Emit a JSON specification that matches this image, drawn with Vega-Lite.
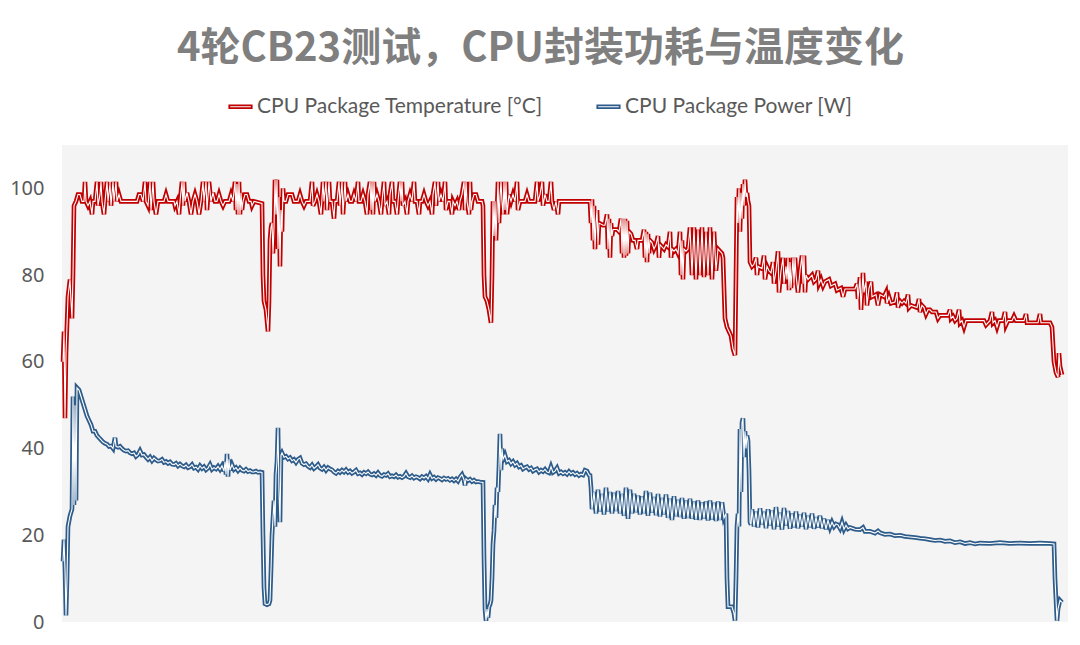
{
"$schema":"https://vega.github.io/schema/vega-lite/v6.json",
"width":1006,"height":477,
"autosize":{"type":"none"},
"padding":{"left":62,"top":145,"right":12,"bottom":23},
"background":"white",
"title":{"text":"4轮CB23测试，CPU封装功耗与温度变化","font":"Noto Sans CJK SC","fontSize":40,"fontWeight":"bold","color":"#7f7f7f","anchor":"middle","frame":"bounds","offset":25},
"config":{"view":{"fill":"#f4f4f4","stroke":null},"axis":{"labelFont":"Noto Sans","labelFontSize":20,"labelColor":"#595959"}},
"data":{"values":[
{"s":"T","t":63,"v":60},{"s":"T","t":64,"v":67},{"s":"T","t":65,"v":47},{"s":"T","t":66,"v":62},{"s":"T","t":68,"v":75},{"s":"T","t":70,"v":79},{"s":"T","t":71,"v":74},{"s":"T","t":72,"v":70},{"s":"T","t":73,"v":80},{"s":"T","t":74,"v":96},{"s":"T","t":76,"v":97},{"s":"T","t":78,"v":98.6},{"s":"T","t":80,"v":98.6},{"s":"T","t":82,"v":97},{"s":"T","t":84,"v":97},{"s":"T","t":85,"v":101.5},{"s":"T","t":86,"v":97},{"s":"T","t":88,"v":96},{"s":"T","t":90,"v":97},{"s":"T","t":92,"v":94},{"s":"T","t":93,"v":97},{"s":"T","t":95,"v":97},{"s":"T","t":97,"v":101.5},{"s":"T","t":98,"v":96},{"s":"T","t":100,"v":98.6},{"s":"T","t":101,"v":101.5},{"s":"T","t":102,"v":97},{"s":"T","t":104,"v":94},{"s":"T","t":105,"v":97},{"s":"T","t":107,"v":101.5},{"s":"T","t":108,"v":97},{"s":"T","t":110,"v":101},{"s":"T","t":111,"v":96},{"s":"T","t":113,"v":101.5},{"s":"T","t":114,"v":97},{"s":"T","t":116,"v":101.5},{"s":"T","t":117,"v":97},{"s":"T","t":119,"v":98.6},{"s":"T","t":121,"v":97},{"s":"T","t":125,"v":97},{"s":"T","t":129,"v":97},{"s":"T","t":133,"v":97},{"s":"T","t":137,"v":97},{"s":"T","t":139,"v":98.6},{"s":"T","t":141,"v":98.6},{"s":"T","t":143,"v":97},{"s":"T","t":145,"v":101.5},{"s":"T","t":146,"v":97},{"s":"T","t":148,"v":96},{"s":"T","t":150,"v":101.5},{"s":"T","t":151,"v":95},{"s":"T","t":153,"v":101.5},{"s":"T","t":154,"v":97},{"s":"T","t":156,"v":94},{"s":"T","t":158,"v":97},{"s":"T","t":164,"v":97},{"s":"T","t":166,"v":98.6},{"s":"T","t":168,"v":97},{"s":"T","t":174,"v":97},{"s":"T","t":175,"v":96},{"s":"T","t":177,"v":97},{"s":"T","t":179,"v":94},{"s":"T","t":180,"v":97},{"s":"T","t":182,"v":101.5},{"s":"T","t":183,"v":96},{"s":"T","t":184,"v":101.5},{"s":"T","t":185,"v":97},{"s":"T","t":187,"v":99},{"s":"T","t":189,"v":97},{"s":"T","t":191,"v":94},{"s":"T","t":193,"v":97},{"s":"T","t":195,"v":98.6},{"s":"T","t":197,"v":97},{"s":"T","t":199,"v":94},{"s":"T","t":201,"v":97},{"s":"T","t":203,"v":101.5},{"s":"T","t":204,"v":97},{"s":"T","t":206,"v":101.5},{"s":"T","t":207,"v":95},{"s":"T","t":209,"v":101.5},{"s":"T","t":211,"v":97},{"s":"T","t":213,"v":99},{"s":"T","t":215,"v":97},{"s":"T","t":217,"v":97},{"s":"T","t":219,"v":98.6},{"s":"T","t":221,"v":97},{"s":"T","t":223,"v":96},{"s":"T","t":225,"v":97},{"s":"T","t":229,"v":97},{"s":"T","t":231,"v":98.6},{"s":"T","t":233,"v":97},{"s":"T","t":235,"v":101.5},{"s":"T","t":236,"v":95},{"s":"T","t":237,"v":101},{"s":"T","t":238,"v":94},{"s":"T","t":239,"v":101.5},{"s":"T","t":240,"v":94},{"s":"T","t":241,"v":99},{"s":"T","t":242,"v":95},{"s":"T","t":243,"v":97},{"s":"T","t":245,"v":98.6},{"s":"T","t":247,"v":98.6},{"s":"T","t":249,"v":97},{"s":"T","t":251,"v":97},{"s":"T","t":252,"v":96},{"s":"T","t":254,"v":97},{"s":"T","t":262,"v":96.5},{"s":"T","t":263,"v":80},{"s":"T","t":264,"v":74},{"s":"T","t":266,"v":72},{"s":"T","t":268,"v":67},{"s":"T","t":269,"v":74},{"s":"T","t":270,"v":88},{"s":"T","t":271,"v":91},{"s":"T","t":272,"v":92},{"s":"T","t":273,"v":85},{"s":"T","t":274,"v":91},{"s":"T","t":275,"v":102},{"s":"T","t":276,"v":94},{"s":"T","t":277,"v":102},{"s":"T","t":278,"v":86},{"s":"T","t":279,"v":98},{"s":"T","t":280,"v":82},{"s":"T","t":281,"v":95},{"s":"T","t":282,"v":90},{"s":"T","t":283,"v":100},{"s":"T","t":284,"v":97},{"s":"T","t":286,"v":97},{"s":"T","t":288,"v":98.6},{"s":"T","t":292,"v":98.6},{"s":"T","t":294,"v":97},{"s":"T","t":298,"v":97},{"s":"T","t":300,"v":98.6},{"s":"T","t":302,"v":97},{"s":"T","t":304,"v":96},{"s":"T","t":306,"v":97},{"s":"T","t":310,"v":97},{"s":"T","t":312,"v":101.5},{"s":"T","t":313,"v":96},{"s":"T","t":315,"v":97},{"s":"T","t":317,"v":98.6},{"s":"T","t":319,"v":97},{"s":"T","t":321,"v":94},{"s":"T","t":323,"v":101.5},{"s":"T","t":324,"v":97},{"s":"T","t":326,"v":101.5},{"s":"T","t":327,"v":95},{"s":"T","t":329,"v":101.5},{"s":"T","t":330,"v":97},{"s":"T","t":332,"v":97},{"s":"T","t":334,"v":93},{"s":"T","t":335,"v":97},{"s":"T","t":337,"v":97},{"s":"T","t":339,"v":101.5},{"s":"T","t":340,"v":96},{"s":"T","t":342,"v":101.5},{"s":"T","t":343,"v":94},{"s":"T","t":345,"v":101.5},{"s":"T","t":346,"v":97},{"s":"T","t":348,"v":98.6},{"s":"T","t":350,"v":97},{"s":"T","t":352,"v":97},{"s":"T","t":354,"v":98.6},{"s":"T","t":356,"v":97},{"s":"T","t":358,"v":101.5},{"s":"T","t":359,"v":97},{"s":"T","t":361,"v":97},{"s":"T","t":363,"v":98.6},{"s":"T","t":365,"v":97},{"s":"T","t":367,"v":94},{"s":"T","t":368,"v":98.6},{"s":"T","t":370,"v":101.5},{"s":"T","t":371,"v":95},{"s":"T","t":372,"v":101.5},{"s":"T","t":373,"v":94},{"s":"T","t":374,"v":101.5},{"s":"T","t":375,"v":97},{"s":"T","t":377,"v":98.6},{"s":"T","t":379,"v":97},{"s":"T","t":381,"v":94},{"s":"T","t":382,"v":97},{"s":"T","t":384,"v":101.5},{"s":"T","t":385,"v":96},{"s":"T","t":387,"v":97},{"s":"T","t":389,"v":94},{"s":"T","t":390,"v":98.6},{"s":"T","t":392,"v":101.5},{"s":"T","t":393,"v":97},{"s":"T","t":395,"v":97},{"s":"T","t":397,"v":94},{"s":"T","t":398,"v":97},{"s":"T","t":400,"v":101.5},{"s":"T","t":401,"v":97},{"s":"T","t":402,"v":101.5},{"s":"T","t":403,"v":96},{"s":"T","t":405,"v":97},{"s":"T","t":407,"v":94},{"s":"T","t":408,"v":97},{"s":"T","t":410,"v":98.6},{"s":"T","t":412,"v":97},{"s":"T","t":414,"v":101.5},{"s":"T","t":415,"v":97},{"s":"T","t":417,"v":97},{"s":"T","t":419,"v":94},{"s":"T","t":420,"v":97},{"s":"T","t":422,"v":97},{"s":"T","t":424,"v":98.6},{"s":"T","t":426,"v":97},{"s":"T","t":428,"v":96},{"s":"T","t":430,"v":97},{"s":"T","t":432,"v":94},{"s":"T","t":433,"v":98.6},{"s":"T","t":435,"v":101.5},{"s":"T","t":436,"v":96},{"s":"T","t":438,"v":101.5},{"s":"T","t":439,"v":97},{"s":"T","t":441,"v":98.6},{"s":"T","t":443,"v":97},{"s":"T","t":445,"v":101.5},{"s":"T","t":446,"v":95},{"s":"T","t":448,"v":97},{"s":"T","t":450,"v":97},{"s":"T","t":452,"v":94},{"s":"T","t":453,"v":97},{"s":"T","t":455,"v":96},{"s":"T","t":457,"v":97},{"s":"T","t":459,"v":95},{"s":"T","t":460,"v":97},{"s":"T","t":462,"v":98.6},{"s":"T","t":464,"v":101.5},{"s":"T","t":465,"v":95},{"s":"T","t":466,"v":101.5},{"s":"T","t":467,"v":97},{"s":"T","t":469,"v":94},{"s":"T","t":470,"v":101.5},{"s":"T","t":471,"v":95},{"s":"T","t":472,"v":97},{"s":"T","t":474,"v":98.6},{"s":"T","t":476,"v":98.6},{"s":"T","t":478,"v":97},{"s":"T","t":482,"v":97},{"s":"T","t":483,"v":96},{"s":"T","t":484,"v":80},{"s":"T","t":485,"v":75},{"s":"T","t":487,"v":74},{"s":"T","t":489,"v":72},{"s":"T","t":491,"v":69},{"s":"T","t":492,"v":80},{"s":"T","t":493,"v":97},{"s":"T","t":494,"v":89},{"s":"T","t":495,"v":97},{"s":"T","t":496,"v":88},{"s":"T","t":497,"v":95},{"s":"T","t":498,"v":101.5},{"s":"T","t":499,"v":92},{"s":"T","t":500,"v":98},{"s":"T","t":501,"v":101.5},{"s":"T","t":502,"v":97},{"s":"T","t":503,"v":94},{"s":"T","t":504,"v":101.5},{"s":"T","t":505,"v":95},{"s":"T","t":506,"v":101.5},{"s":"T","t":507,"v":94},{"s":"T","t":509,"v":98.6},{"s":"T","t":511,"v":97},{"s":"T","t":513,"v":98.6},{"s":"T","t":515,"v":97},{"s":"T","t":517,"v":101.5},{"s":"T","t":518,"v":95},{"s":"T","t":520,"v":97},{"s":"T","t":525,"v":97},{"s":"T","t":527,"v":98.6},{"s":"T","t":529,"v":97},{"s":"T","t":535,"v":97},{"s":"T","t":537,"v":101.5},{"s":"T","t":538,"v":97},{"s":"T","t":540,"v":98.6},{"s":"T","t":542,"v":101.5},{"s":"T","t":543,"v":96},{"s":"T","t":545,"v":98.6},{"s":"T","t":547,"v":97},{"s":"T","t":549,"v":97},{"s":"T","t":551,"v":101.5},{"s":"T","t":552,"v":97},{"s":"T","t":554,"v":95},{"s":"T","t":556,"v":97},{"s":"T","t":558,"v":94},{"s":"T","t":559,"v":97},{"s":"T","t":589,"v":97},{"s":"T","t":590,"v":97},{"s":"T","t":591,"v":92},{"s":"T","t":592,"v":97.5},{"s":"T","t":593,"v":88},{"s":"T","t":594,"v":96},{"s":"T","t":595,"v":86},{"s":"T","t":596,"v":92},{"s":"T","t":597,"v":95},{"s":"T","t":598,"v":87},{"s":"T","t":599,"v":92},{"s":"T","t":603,"v":91.5},{"s":"T","t":605,"v":91.5},{"s":"T","t":607,"v":94},{"s":"T","t":608,"v":86},{"s":"T","t":609,"v":93},{"s":"T","t":610,"v":84},{"s":"T","t":611,"v":92},{"s":"T","t":612,"v":89},{"s":"T","t":613,"v":90.5},{"s":"T","t":617,"v":90.5},{"s":"T","t":619,"v":90},{"s":"T","t":621,"v":93},{"s":"T","t":622,"v":85},{"s":"T","t":623,"v":93},{"s":"T","t":624,"v":84},{"s":"T","t":625,"v":93},{"s":"T","t":626,"v":84.5},{"s":"T","t":627,"v":92.5},{"s":"T","t":628,"v":85},{"s":"T","t":629,"v":90},{"s":"T","t":631,"v":89.5},{"s":"T","t":633,"v":88},{"s":"T","t":635,"v":88},{"s":"T","t":637,"v":86},{"s":"T","t":638,"v":88},{"s":"T","t":642,"v":88},{"s":"T","t":644,"v":90.5},{"s":"T","t":645,"v":84},{"s":"T","t":646,"v":90},{"s":"T","t":647,"v":83},{"s":"T","t":648,"v":89.5},{"s":"T","t":649,"v":85},{"s":"T","t":650,"v":88},{"s":"T","t":652,"v":87.5},{"s":"T","t":654,"v":86},{"s":"T","t":656,"v":87},{"s":"T","t":658,"v":89},{"s":"T","t":659,"v":84},{"s":"T","t":660,"v":87},{"s":"T","t":664,"v":86},{"s":"T","t":666,"v":87},{"s":"T","t":668,"v":86.5},{"s":"T","t":670,"v":90},{"s":"T","t":671,"v":84},{"s":"T","t":672,"v":86},{"s":"T","t":674,"v":85.5},{"s":"T","t":676,"v":86},{"s":"T","t":678,"v":85},{"s":"T","t":680,"v":90},{"s":"T","t":681,"v":80},{"s":"T","t":682,"v":88},{"s":"T","t":683,"v":79},{"s":"T","t":684,"v":86},{"s":"T","t":686,"v":85.5},{"s":"T","t":688,"v":86},{"s":"T","t":690,"v":91},{"s":"T","t":692,"v":80},{"s":"T","t":694,"v":91},{"s":"T","t":696,"v":79},{"s":"T","t":698,"v":90.5},{"s":"T","t":700,"v":80},{"s":"T","t":702,"v":91},{"s":"T","t":704,"v":79.5},{"s":"T","t":706,"v":90},{"s":"T","t":708,"v":80},{"s":"T","t":710,"v":91},{"s":"T","t":712,"v":79},{"s":"T","t":714,"v":90},{"s":"T","t":716,"v":81},{"s":"T","t":718,"v":86},{"s":"T","t":722,"v":85},{"s":"T","t":723,"v":84},{"s":"T","t":725,"v":70},{"s":"T","t":727,"v":68},{"s":"T","t":729,"v":67},{"s":"T","t":731,"v":66},{"s":"T","t":733,"v":63},{"s":"T","t":735,"v":61.5},{"s":"T","t":736,"v":80},{"s":"T","t":737,"v":98},{"s":"T","t":738,"v":92},{"s":"T","t":739,"v":100},{"s":"T","t":740,"v":90},{"s":"T","t":741,"v":99},{"s":"T","t":742,"v":93},{"s":"T","t":743,"v":101},{"s":"T","t":744,"v":96},{"s":"T","t":745,"v":102},{"s":"T","t":746,"v":98},{"s":"T","t":747,"v":99},{"s":"T","t":748,"v":97},{"s":"T","t":749,"v":96},{"s":"T","t":750,"v":83},{"s":"T","t":752,"v":82},{"s":"T","t":754,"v":82.5},{"s":"T","t":756,"v":84},{"s":"T","t":757,"v":80},{"s":"T","t":758,"v":82},{"s":"T","t":762,"v":81.5},{"s":"T","t":764,"v":84.5},{"s":"T","t":765,"v":79},{"s":"T","t":767,"v":82},{"s":"T","t":769,"v":81},{"s":"T","t":771,"v":80.5},{"s":"T","t":773,"v":83},{"s":"T","t":774,"v":78},{"s":"T","t":776,"v":81},{"s":"T","t":778,"v":85.5},{"s":"T","t":779,"v":76},{"s":"T","t":781,"v":81},{"s":"T","t":783,"v":84},{"s":"T","t":784,"v":78},{"s":"T","t":786,"v":82},{"s":"T","t":787,"v":79},{"s":"T","t":788,"v":84},{"s":"T","t":789,"v":76.5},{"s":"T","t":790,"v":83},{"s":"T","t":791,"v":77},{"s":"T","t":793,"v":84},{"s":"T","t":794,"v":78},{"s":"T","t":795,"v":84},{"s":"T","t":796,"v":80},{"s":"T","t":798,"v":76},{"s":"T","t":800,"v":81},{"s":"T","t":802,"v":84.5},{"s":"T","t":803,"v":78},{"s":"T","t":804,"v":84.5},{"s":"T","t":805,"v":76},{"s":"T","t":806,"v":80},{"s":"T","t":808,"v":79},{"s":"T","t":810,"v":79.5},{"s":"T","t":812,"v":80},{"s":"T","t":814,"v":78.5},{"s":"T","t":816,"v":79},{"s":"T","t":818,"v":81},{"s":"T","t":819,"v":78},{"s":"T","t":821,"v":79},{"s":"T","t":823,"v":77.5},{"s":"T","t":825,"v":78.5},{"s":"T","t":829,"v":79},{"s":"T","t":831,"v":77.5},{"s":"T","t":835,"v":78},{"s":"T","t":837,"v":76.5},{"s":"T","t":841,"v":77},{"s":"T","t":843,"v":75},{"s":"T","t":845,"v":76.8},{"s":"T","t":855,"v":76.8},{"s":"T","t":857,"v":78},{"s":"T","t":858,"v":74.5},{"s":"T","t":860,"v":79.5},{"s":"T","t":861,"v":72},{"s":"T","t":863,"v":80.5},{"s":"T","t":864,"v":76},{"s":"T","t":866,"v":78.5},{"s":"T","t":867,"v":73},{"s":"T","t":869,"v":77},{"s":"T","t":871,"v":78.5},{"s":"T","t":872,"v":75},{"s":"T","t":876,"v":75.5},{"s":"T","t":878,"v":73},{"s":"T","t":880,"v":75.5},{"s":"T","t":884,"v":75},{"s":"T","t":886,"v":76},{"s":"T","t":887,"v":73.5},{"s":"T","t":889,"v":75},{"s":"T","t":891,"v":73.5},{"s":"T","t":895,"v":73.8},{"s":"T","t":897,"v":76},{"s":"T","t":898,"v":72.5},{"s":"T","t":900,"v":74},{"s":"T","t":902,"v":73.5},{"s":"T","t":904,"v":74},{"s":"T","t":906,"v":73.5},{"s":"T","t":908,"v":75.5},{"s":"T","t":909,"v":72.5},{"s":"T","t":911,"v":73},{"s":"T","t":917,"v":72.5},{"s":"T","t":919,"v":74.5},{"s":"T","t":920,"v":71.5},{"s":"T","t":922,"v":73},{"s":"T","t":924,"v":72.5},{"s":"T","t":926,"v":71},{"s":"T","t":928,"v":72},{"s":"T","t":930,"v":72},{"s":"T","t":932,"v":71.5},{"s":"T","t":936,"v":71.5},{"s":"T","t":938,"v":70},{"s":"T","t":940,"v":70.7},{"s":"T","t":948,"v":70.7},{"s":"T","t":950,"v":72},{"s":"T","t":951,"v":70},{"s":"T","t":953,"v":70.5},{"s":"T","t":955,"v":69.5},{"s":"T","t":957,"v":70},{"s":"T","t":959,"v":72},{"s":"T","t":960,"v":69},{"s":"T","t":962,"v":69.5},{"s":"T","t":964,"v":68},{"s":"T","t":966,"v":69.5},{"s":"T","t":984,"v":69.5},{"s":"T","t":986,"v":68.5},{"s":"T","t":990,"v":69.5},{"s":"T","t":992,"v":71.5},{"s":"T","t":993,"v":69},{"s":"T","t":995,"v":69.5},{"s":"T","t":997,"v":68},{"s":"T","t":999,"v":69.5},{"s":"T","t":1003,"v":69.5},{"s":"T","t":1005,"v":71.5},{"s":"T","t":1006,"v":68.5},{"s":"T","t":1008,"v":69.5},{"s":"T","t":1012,"v":69.5},{"s":"T","t":1014,"v":70.5},{"s":"T","t":1016,"v":69.5},{"s":"T","t":1024,"v":69.5},{"s":"T","t":1026,"v":71},{"s":"T","t":1027,"v":69},{"s":"T","t":1038,"v":69},{"s":"T","t":1040,"v":71},{"s":"T","t":1041,"v":69},{"s":"T","t":1050,"v":69},{"s":"T","t":1052,"v":68},{"s":"T","t":1054,"v":60},{"s":"T","t":1056,"v":57.5},{"s":"T","t":1058,"v":56.5},{"s":"T","t":1059,"v":62},{"s":"T","t":1060,"v":59},{"s":"T","t":1062,"v":57},
{"s":"P","t":63,"v":14},{"s":"P","t":64,"v":19},{"s":"P","t":65,"v":12},{"s":"P","t":66,"v":1.5},{"s":"P","t":67,"v":10},{"s":"P","t":68,"v":22},{"s":"P","t":70,"v":24.5},{"s":"P","t":72,"v":26},{"s":"P","t":73,"v":52},{"s":"P","t":74,"v":27},{"s":"P","t":75,"v":50},{"s":"P","t":76,"v":28},{"s":"P","t":77,"v":54},{"s":"P","t":79,"v":53.5},{"s":"P","t":81,"v":52},{"s":"P","t":83,"v":50.5},{"s":"P","t":85,"v":49},{"s":"P","t":87,"v":47.5},{"s":"P","t":89,"v":46.5},{"s":"P","t":91,"v":45.5},{"s":"P","t":93,"v":44},{"s":"P","t":95,"v":44},{"s":"P","t":97,"v":43},{"s":"P","t":99,"v":42.5},{"s":"P","t":101,"v":42},{"s":"P","t":103,"v":41.5},{"s":"P","t":105,"v":41.2},{"s":"P","t":107,"v":41},{"s":"P","t":109,"v":40.5},{"s":"P","t":111,"v":40.6},{"s":"P","t":113,"v":40},{"s":"P","t":115,"v":42.5},{"s":"P","t":116,"v":40.5},{"s":"P","t":118,"v":40.3},{"s":"P","t":120,"v":40.5},{"s":"P","t":122,"v":40},{"s":"P","t":124,"v":39.6},{"s":"P","t":126,"v":39.4},{"s":"P","t":128,"v":39.5},{"s":"P","t":130,"v":39},{"s":"P","t":132,"v":38.8},{"s":"P","t":134,"v":39},{"s":"P","t":136,"v":38.2},{"s":"P","t":138,"v":38.6},{"s":"P","t":140,"v":39.5},{"s":"P","t":142,"v":38.5},{"s":"P","t":144,"v":38.6},{"s":"P","t":146,"v":38},{"s":"P","t":148,"v":37.5},{"s":"P","t":150,"v":38},{"s":"P","t":152,"v":37.2},{"s":"P","t":154,"v":37.8},{"s":"P","t":156,"v":37.4},{"s":"P","t":158,"v":37.1},{"s":"P","t":160,"v":37.2},{"s":"P","t":162,"v":37.5},{"s":"P","t":164,"v":36.8},{"s":"P","t":166,"v":37},{"s":"P","t":168,"v":36.6},{"s":"P","t":170,"v":36.9},{"s":"P","t":172,"v":36.4},{"s":"P","t":174,"v":36.3},{"s":"P","t":176,"v":36.6},{"s":"P","t":178,"v":36},{"s":"P","t":180,"v":36.4},{"s":"P","t":182,"v":36},{"s":"P","t":184,"v":35.8},{"s":"P","t":186,"v":36.2},{"s":"P","t":188,"v":35.6},{"s":"P","t":190,"v":35.8},{"s":"P","t":192,"v":36.3},{"s":"P","t":194,"v":35.5},{"s":"P","t":196,"v":35.7},{"s":"P","t":198,"v":35.2},{"s":"P","t":200,"v":36},{"s":"P","t":202,"v":35.4},{"s":"P","t":204,"v":35.8},{"s":"P","t":206,"v":35.1},{"s":"P","t":208,"v":35.5},{"s":"P","t":210,"v":36.3},{"s":"P","t":212,"v":35.2},{"s":"P","t":214,"v":35.6},{"s":"P","t":216,"v":35.3},{"s":"P","t":218,"v":35.9},{"s":"P","t":220,"v":35.2},{"s":"P","t":222,"v":36},{"s":"P","t":224,"v":34.8},{"s":"P","t":225,"v":37},{"s":"P","t":226,"v":34},{"s":"P","t":227,"v":38.8},{"s":"P","t":228,"v":33.5},{"s":"P","t":229,"v":37.5},{"s":"P","t":230,"v":35},{"s":"P","t":232,"v":36.3},{"s":"P","t":234,"v":35.2},{"s":"P","t":236,"v":35.6},{"s":"P","t":238,"v":34.9},{"s":"P","t":240,"v":35.5},{"s":"P","t":242,"v":35},{"s":"P","t":244,"v":34.8},{"s":"P","t":246,"v":35.2},{"s":"P","t":248,"v":34.7},{"s":"P","t":250,"v":34.9},{"s":"P","t":252,"v":34.6},{"s":"P","t":254,"v":34.6},{"s":"P","t":256,"v":34.8},{"s":"P","t":258,"v":34.5},{"s":"P","t":260,"v":34.6},{"s":"P","t":262,"v":34.5},{"s":"P","t":263,"v":20},{"s":"P","t":264,"v":8},{"s":"P","t":265,"v":4.2},{"s":"P","t":267,"v":4},{"s":"P","t":269,"v":4.2},{"s":"P","t":270,"v":5},{"s":"P","t":271,"v":12},{"s":"P","t":272,"v":20},{"s":"P","t":273,"v":24},{"s":"P","t":274,"v":28},{"s":"P","t":275,"v":22},{"s":"P","t":276,"v":34},{"s":"P","t":277,"v":37},{"s":"P","t":278,"v":44.8},{"s":"P","t":279,"v":30},{"s":"P","t":280,"v":23},{"s":"P","t":281,"v":38.5},{"s":"P","t":282,"v":39},{"s":"P","t":284,"v":38},{"s":"P","t":286,"v":38.2},{"s":"P","t":288,"v":37.6},{"s":"P","t":290,"v":37.9},{"s":"P","t":292,"v":37.2},{"s":"P","t":294,"v":37.5},{"s":"P","t":296,"v":36.8},{"s":"P","t":298,"v":37.5},{"s":"P","t":300,"v":37.8},{"s":"P","t":302,"v":36.6},{"s":"P","t":304,"v":36.3},{"s":"P","t":306,"v":36.5},{"s":"P","t":308,"v":35.9},{"s":"P","t":310,"v":35.6},{"s":"P","t":312,"v":36.2},{"s":"P","t":314,"v":35.4},{"s":"P","t":316,"v":35.8},{"s":"P","t":318,"v":36.3},{"s":"P","t":320,"v":35.5},{"s":"P","t":322,"v":35.2},{"s":"P","t":324,"v":35.7},{"s":"P","t":326,"v":35},{"s":"P","t":328,"v":35.6},{"s":"P","t":330,"v":35.3},{"s":"P","t":332,"v":35.1},{"s":"P","t":334,"v":34.6},{"s":"P","t":336,"v":34.3},{"s":"P","t":338,"v":34.8},{"s":"P","t":340,"v":34.5},{"s":"P","t":342,"v":35},{"s":"P","t":344,"v":34.6},{"s":"P","t":346,"v":35.1},{"s":"P","t":348,"v":34.5},{"s":"P","t":350,"v":34.8},{"s":"P","t":352,"v":34.3},{"s":"P","t":354,"v":34.6},{"s":"P","t":356,"v":35},{"s":"P","t":358,"v":34.2},{"s":"P","t":360,"v":34.4},{"s":"P","t":362,"v":34},{"s":"P","t":364,"v":34.5},{"s":"P","t":366,"v":34.2},{"s":"P","t":368,"v":34.6},{"s":"P","t":370,"v":34.1},{"s":"P","t":372,"v":33.9},{"s":"P","t":374,"v":34.2},{"s":"P","t":376,"v":33.8},{"s":"P","t":378,"v":34.4},{"s":"P","t":380,"v":33.8},{"s":"P","t":382,"v":33.6},{"s":"P","t":384,"v":34},{"s":"P","t":386,"v":33.8},{"s":"P","t":388,"v":34.2},{"s":"P","t":390,"v":33.5},{"s":"P","t":392,"v":33.7},{"s":"P","t":394,"v":33.5},{"s":"P","t":396,"v":33.9},{"s":"P","t":398,"v":33.4},{"s":"P","t":400,"v":33.6},{"s":"P","t":402,"v":33.3},{"s":"P","t":404,"v":33.6},{"s":"P","t":406,"v":34.3},{"s":"P","t":408,"v":33.5},{"s":"P","t":410,"v":33.3},{"s":"P","t":412,"v":33.7},{"s":"P","t":414,"v":33.2},{"s":"P","t":416,"v":33.5},{"s":"P","t":418,"v":33.3},{"s":"P","t":420,"v":33},{"s":"P","t":422,"v":33.5},{"s":"P","t":424,"v":33.2},{"s":"P","t":426,"v":33.6},{"s":"P","t":428,"v":33},{"s":"P","t":430,"v":34},{"s":"P","t":432,"v":33.1},{"s":"P","t":434,"v":33.4},{"s":"P","t":436,"v":32.9},{"s":"P","t":438,"v":33.3},{"s":"P","t":440,"v":33.1},{"s":"P","t":442,"v":32.8},{"s":"P","t":444,"v":33.2},{"s":"P","t":446,"v":32.9},{"s":"P","t":448,"v":33.1},{"s":"P","t":450,"v":32.7},{"s":"P","t":452,"v":33},{"s":"P","t":454,"v":32.6},{"s":"P","t":456,"v":33},{"s":"P","t":458,"v":32.5},{"s":"P","t":460,"v":33.4},{"s":"P","t":462,"v":34},{"s":"P","t":464,"v":32.8},{"s":"P","t":465,"v":31.5},{"s":"P","t":466,"v":33},{"s":"P","t":468,"v":32.6},{"s":"P","t":470,"v":32.9},{"s":"P","t":472,"v":32.4},{"s":"P","t":474,"v":32.7},{"s":"P","t":476,"v":32.3},{"s":"P","t":478,"v":32.4},{"s":"P","t":480,"v":32.3},{"s":"P","t":483,"v":32.2},{"s":"P","t":484,"v":15},{"s":"P","t":485,"v":3},{"s":"P","t":486,"v":0.3},{"s":"P","t":487,"v":3},{"s":"P","t":488,"v":1},{"s":"P","t":489,"v":3.5},{"s":"P","t":490,"v":4},{"s":"P","t":491,"v":5},{"s":"P","t":492,"v":10},{"s":"P","t":493,"v":18},{"s":"P","t":494,"v":21},{"s":"P","t":495,"v":27},{"s":"P","t":496,"v":24},{"s":"P","t":497,"v":31},{"s":"P","t":498,"v":30},{"s":"P","t":499,"v":36},{"s":"P","t":500,"v":43.4},{"s":"P","t":501,"v":35},{"s":"P","t":502,"v":40},{"s":"P","t":503,"v":37.5},{"s":"P","t":505,"v":38.5},{"s":"P","t":507,"v":37},{"s":"P","t":509,"v":37.3},{"s":"P","t":511,"v":36.5},{"s":"P","t":513,"v":37},{"s":"P","t":515,"v":36.2},{"s":"P","t":517,"v":36.6},{"s":"P","t":519,"v":35.8},{"s":"P","t":521,"v":36.1},{"s":"P","t":523,"v":35.3},{"s":"P","t":525,"v":35.6},{"s":"P","t":527,"v":35.8},{"s":"P","t":529,"v":35.2},{"s":"P","t":531,"v":35.5},{"s":"P","t":533,"v":34.8},{"s":"P","t":535,"v":35.1},{"s":"P","t":537,"v":35.3},{"s":"P","t":539,"v":34.6},{"s":"P","t":541,"v":35},{"s":"P","t":543,"v":34.7},{"s":"P","t":545,"v":35.2},{"s":"P","t":547,"v":34.6},{"s":"P","t":549,"v":34.4},{"s":"P","t":551,"v":35.8},{"s":"P","t":553,"v":34.5},{"s":"P","t":555,"v":34.8},{"s":"P","t":557,"v":35.5},{"s":"P","t":559,"v":34.3},{"s":"P","t":561,"v":34.6},{"s":"P","t":563,"v":34.2},{"s":"P","t":565,"v":34.5},{"s":"P","t":567,"v":34.1},{"s":"P","t":569,"v":34.7},{"s":"P","t":571,"v":34.2},{"s":"P","t":573,"v":34.5},{"s":"P","t":575,"v":34},{"s":"P","t":577,"v":34.3},{"s":"P","t":579,"v":33.8},{"s":"P","t":581,"v":34.1},{"s":"P","t":583,"v":33.9},{"s":"P","t":585,"v":35},{"s":"P","t":587,"v":34.8},{"s":"P","t":589,"v":33.9},{"s":"P","t":590,"v":33.8},{"s":"P","t":591,"v":31},{"s":"P","t":592,"v":26},{"s":"P","t":594,"v":30},{"s":"P","t":596,"v":25},{"s":"P","t":598,"v":30.5},{"s":"P","t":600,"v":25.5},{"s":"P","t":602,"v":29.5},{"s":"P","t":604,"v":24.8},{"s":"P","t":606,"v":31},{"s":"P","t":608,"v":25.5},{"s":"P","t":610,"v":30},{"s":"P","t":612,"v":25},{"s":"P","t":614,"v":29.8},{"s":"P","t":616,"v":25.6},{"s":"P","t":618,"v":30.2},{"s":"P","t":620,"v":25},{"s":"P","t":622,"v":29.5},{"s":"P","t":624,"v":24.5},{"s":"P","t":626,"v":31},{"s":"P","t":628,"v":23.8},{"s":"P","t":630,"v":30.5},{"s":"P","t":632,"v":25},{"s":"P","t":634,"v":29.6},{"s":"P","t":636,"v":25.3},{"s":"P","t":638,"v":29.2},{"s":"P","t":640,"v":24.8},{"s":"P","t":642,"v":29},{"s":"P","t":644,"v":25},{"s":"P","t":646,"v":30.2},{"s":"P","t":648,"v":24.5},{"s":"P","t":650,"v":29.8},{"s":"P","t":652,"v":25.2},{"s":"P","t":654,"v":28.8},{"s":"P","t":656,"v":24.6},{"s":"P","t":658,"v":29.5},{"s":"P","t":660,"v":24.3},{"s":"P","t":662,"v":28.6},{"s":"P","t":664,"v":24.8},{"s":"P","t":666,"v":29.4},{"s":"P","t":668,"v":24},{"s":"P","t":670,"v":28.5},{"s":"P","t":672,"v":23.5},{"s":"P","t":674,"v":29},{"s":"P","t":676,"v":24.4},{"s":"P","t":678,"v":28.2},{"s":"P","t":680,"v":24.2},{"s":"P","t":682,"v":28.6},{"s":"P","t":684,"v":23.8},{"s":"P","t":686,"v":28},{"s":"P","t":688,"v":24},{"s":"P","t":690,"v":28.4},{"s":"P","t":692,"v":23.8},{"s":"P","t":694,"v":27.8},{"s":"P","t":696,"v":23.6},{"s":"P","t":698,"v":28},{"s":"P","t":700,"v":23.5},{"s":"P","t":702,"v":27.6},{"s":"P","t":704,"v":23.8},{"s":"P","t":706,"v":27.8},{"s":"P","t":708,"v":23.4},{"s":"P","t":710,"v":28},{"s":"P","t":712,"v":23.6},{"s":"P","t":714,"v":27.5},{"s":"P","t":716,"v":23.3},{"s":"P","t":718,"v":27.8},{"s":"P","t":720,"v":23.5},{"s":"P","t":722,"v":27.6},{"s":"P","t":724,"v":24},{"s":"P","t":726,"v":25},{"s":"P","t":727,"v":10},{"s":"P","t":728,"v":3.5},{"s":"P","t":732,"v":3.5},{"s":"P","t":734,"v":2},{"s":"P","t":735,"v":0.3},{"s":"P","t":736,"v":10},{"s":"P","t":737,"v":22},{"s":"P","t":738,"v":25},{"s":"P","t":739,"v":22},{"s":"P","t":740,"v":44.5},{"s":"P","t":741,"v":30},{"s":"P","t":742,"v":46},{"s":"P","t":743,"v":47},{"s":"P","t":744,"v":38},{"s":"P","t":745,"v":44},{"s":"P","t":746,"v":40},{"s":"P","t":747,"v":43},{"s":"P","t":748,"v":41.8},{"s":"P","t":749,"v":35},{"s":"P","t":750,"v":23},{"s":"P","t":751,"v":22.5},{"s":"P","t":752,"v":26},{"s":"P","t":754,"v":22},{"s":"P","t":756,"v":25.5},{"s":"P","t":758,"v":21.8},{"s":"P","t":760,"v":26.2},{"s":"P","t":762,"v":22.5},{"s":"P","t":764,"v":25.4},{"s":"P","t":766,"v":21.6},{"s":"P","t":768,"v":26},{"s":"P","t":770,"v":22.2},{"s":"P","t":772,"v":25.8},{"s":"P","t":774,"v":21.4},{"s":"P","t":776,"v":26.5},{"s":"P","t":778,"v":22},{"s":"P","t":780,"v":25.2},{"s":"P","t":782,"v":21.3},{"s":"P","t":784,"v":26.3},{"s":"P","t":786,"v":22.2},{"s":"P","t":788,"v":25.6},{"s":"P","t":790,"v":21.5},{"s":"P","t":792,"v":25},{"s":"P","t":794,"v":21.8},{"s":"P","t":796,"v":25.5},{"s":"P","t":798,"v":21.6},{"s":"P","t":800,"v":24.8},{"s":"P","t":802,"v":22},{"s":"P","t":804,"v":25.2},{"s":"P","t":806,"v":21.4},{"s":"P","t":808,"v":24.5},{"s":"P","t":810,"v":21.8},{"s":"P","t":812,"v":25},{"s":"P","t":814,"v":21.5},{"s":"P","t":816,"v":24.2},{"s":"P","t":818,"v":21.8},{"s":"P","t":820,"v":24.5},{"s":"P","t":822,"v":21.6},{"s":"P","t":824,"v":23.8},{"s":"P","t":826,"v":21.4},{"s":"P","t":828,"v":23.5},{"s":"P","t":830,"v":21.8},{"s":"P","t":832,"v":23},{"s":"P","t":834,"v":22},{"s":"P","t":836,"v":22.6},{"s":"P","t":838,"v":22.4},{"s":"P","t":840,"v":21.6},{"s":"P","t":842,"v":23},{"s":"P","t":844,"v":21.4},{"s":"P","t":846,"v":22.3},{"s":"P","t":848,"v":21.5},{"s":"P","t":850,"v":21.8},{"s":"P","t":855,"v":21.4},{"s":"P","t":860,"v":21.3},{"s":"P","t":863,"v":21.8},{"s":"P","t":865,"v":20.9},{"s":"P","t":870,"v":20.9},{"s":"P","t":875,"v":20.5},{"s":"P","t":878,"v":21},{"s":"P","t":880,"v":20.6},{"s":"P","t":885,"v":20.2},{"s":"P","t":890,"v":20.3},{"s":"P","t":895,"v":19.9},{"s":"P","t":900,"v":20},{"s":"P","t":905,"v":19.7},{"s":"P","t":910,"v":19.6},{"s":"P","t":915,"v":19.5},{"s":"P","t":920,"v":19.3},{"s":"P","t":925,"v":19.2},{"s":"P","t":930,"v":19},{"s":"P","t":935,"v":18.8},{"s":"P","t":940,"v":18.9},{"s":"P","t":945,"v":18.6},{"s":"P","t":950,"v":18.7},{"s":"P","t":955,"v":18.3},{"s":"P","t":960,"v":18.5},{"s":"P","t":965,"v":18.1},{"s":"P","t":970,"v":18.3},{"s":"P","t":975,"v":18},{"s":"P","t":980,"v":18.2},{"s":"P","t":990,"v":18.1},{"s":"P","t":1000,"v":18.3},{"s":"P","t":1010,"v":18.1},{"s":"P","t":1020,"v":18.2},{"s":"P","t":1030,"v":18.1},{"s":"P","t":1040,"v":18.2},{"s":"P","t":1050,"v":18.1},{"s":"P","t":1054,"v":18},{"s":"P","t":1055,"v":10},{"s":"P","t":1057,"v":0.3},{"s":"P","t":1058,"v":3},{"s":"P","t":1060,"v":5},{"s":"P","t":1062,"v":4.5}
]},
"encoding":{
"x":{"field":"t","type":"quantitative","scale":{"domain":[62,1068],"nice":false,"zero":false},"axis":null},
"y":{"field":"v","type":"quantitative","scale":{"domain":[0,110],"nice":false},"axis":{"values":[0,20,40,60,80,100],"ticks":false,"domain":false,"grid":false,"labelPadding":18,"title":null}}
},
"layer":[
{"mark":{"type":"line","strokeWidth":4.6,"strokeJoin":"miter","strokeMiterLimit":4},
 "encoding":{"color":{"field":"s","type":"nominal","scale":{"domain":["T","P"],"range":["#c00000","#2d5b8a"]},
  "legend":{"orient":"none","legendX":166,"legendY":-51,"direction":"horizontal","title":null,"labelExpr":"datum.label == 'T' ? 'CPU Package Temperature [°C]' : 'CPU Package Power [W]'","labelFont":"Lato","labelFontSize":21,"labelColor":"#595959","labelLimit":0,"symbolType":"M-1,-0.12H1V0.12H-1Z","symbolSize":500,"symbolStrokeWidth":1.8,"symbolFillColor":"white","columnPadding":50,"labelOffset":4,
   "encode":{"symbols":{"update":{"fill":{"value":"white"},"strokeWidth":{"value":1.8}}}}}}}},
{"mark":{"type":"line","strokeWidth":1.1,"color":"white","strokeJoin":"miter","strokeMiterLimit":4},
 "encoding":{"detail":{"field":"s"}}}
]
}
